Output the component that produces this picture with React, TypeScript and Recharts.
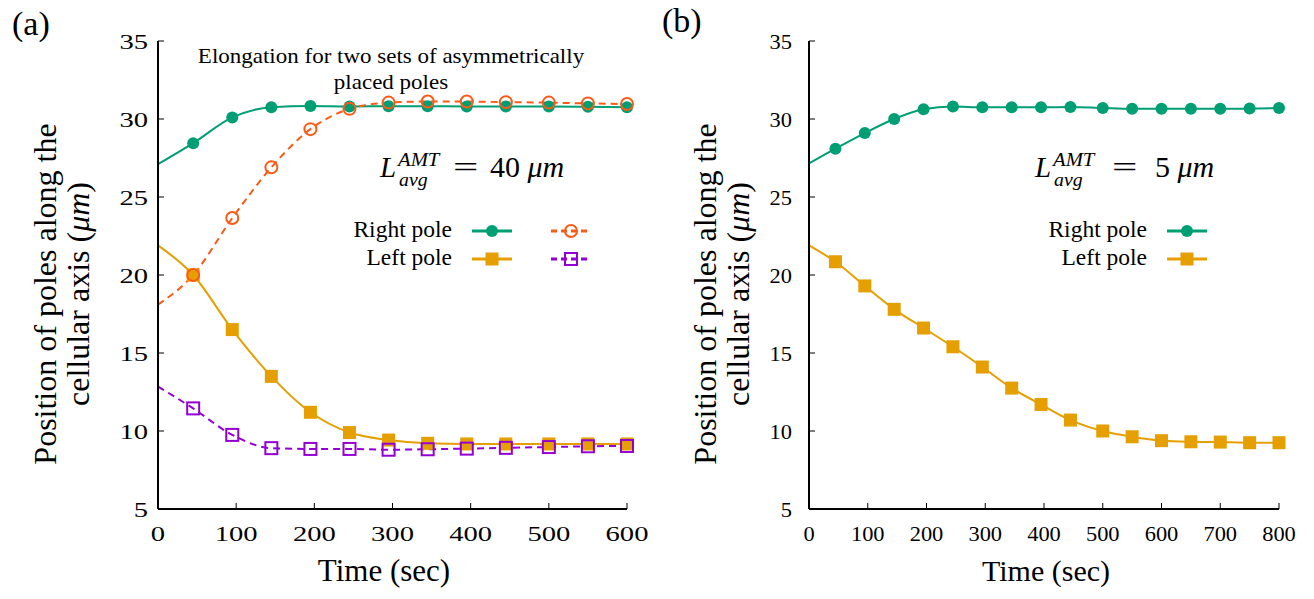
import React from "react";
import { LineChart, Line, XAxis, YAxis } from "recharts";

// time points (sec) where the simulation was sampled
const timesA = [0, 45, 95, 145, 195, 245, 295, 345, 395, 445, 500, 550, 600];
const rightPoleA1 = [27.1, 28.45, 30.1, 30.75, 30.83, 30.8, 30.82, 30.82, 30.8, 30.8, 30.8, 30.78, 30.75];
const leftPoleA1 = [21.9, 20.0, 16.5, 13.5, 11.2, 9.9, 9.42, 9.21, 9.17, 9.17, 9.17, 9.17, 9.17];
const rightPoleA2 = [18.1, 20.0, 23.65, 26.9, 29.35, 30.65, 31.05, 31.12, 31.12, 31.08, 31.05, 31.0, 30.96];
const leftPoleA2 = [12.85, 11.45, 9.75, 8.9, 8.85, 8.85, 8.8, 8.83, 8.87, 8.92, 8.97, 9.02, 9.04];

const timesB = [0, 45, 95, 145, 195, 245, 295, 345, 395, 445, 500, 550, 600, 650, 700, 750, 800];
const rightPoleB = [27.15, 28.1, 29.1, 30.0, 30.62, 30.8, 30.75, 30.75, 30.75, 30.77, 30.7, 30.65, 30.65, 30.65, 30.65, 30.67, 30.7];
const leftPoleB = [21.9, 20.85, 19.3, 17.8, 16.6, 15.4, 14.1, 12.75, 11.7, 10.7, 10.0, 9.63, 9.38, 9.31, 9.29, 9.25, 9.25];

const yTicks = [5, 10, 15, 20, 25, 30, 35];
const xTicksA = [0, 100, 200, 300, 400, 500, 600];
const xTicksB = [0, 100, 200, 300, 400, 500, 600, 700, 800];

const FONT = "'Liberation Serif', 'Times New Roman', 'DejaVu Serif', serif";
const GREEN = "#009e73";
const YELLOW = "#e69f00";
const ORANGE = "#fb5b17";
const PURPLE = "#9400d3";

type Series = { key: string; color: string; shape: "circle" | "square"; filled: boolean; dashed: boolean };

const seriesA: Series[] = [
  { key: "r1", color: GREEN, shape: "circle", filled: true, dashed: false },
  { key: "l1", color: YELLOW, shape: "square", filled: true, dashed: false },
  { key: "r2", color: ORANGE, shape: "circle", filled: false, dashed: true },
  { key: "l2", color: PURPLE, shape: "square", filled: false, dashed: true },
];
const seriesB: Series[] = [
  { key: "r1", color: GREEN, shape: "circle", filled: true, dashed: false },
  { key: "l1", color: YELLOW, shape: "square", filled: true, dashed: false },
];

const dataA = timesA.map((t, i) => ({ t, r1: rightPoleA1[i], l1: leftPoleA1[i], r2: rightPoleA2[i], l2: leftPoleA2[i] }));
const dataB = timesB.map((t, i) => ({ t, r1: rightPoleB[i], l1: leftPoleB[i] }));

function Marker({ cx, cy, s }: { cx: number; cy: number; s: Series }) {
  if (s.shape === "circle") {
    return s.filled
      ? <circle cx={cx} cy={cy} r={6} fill={s.color} />
      : <circle cx={cx} cy={cy} r={6} fill="none" stroke={s.color} strokeWidth={2} />;
  }
  return s.filled
    ? <rect x={cx - 6.5} y={cy - 6.5} width={13} height={13} fill={s.color} />
    : <rect x={cx - 6} y={cy - 6} width={12} height={12} fill="none" stroke={s.color} strokeWidth={2} />;
}

// no symbol at t = 0, gnuplot puts them every 50 s only
const dotFor = (s: Series) => (p: any) => {
  const { cx, cy, index } = p;
  if (index === 0 || cx == null || cy == null) return <g key={`d-${s.key}-${index}`} />;
  return <g key={`d-${s.key}-${index}`}><Marker cx={cx} cy={cy} s={s} /></g>;
};

// panel (a) was exported a bit wider, its tick numbers look stretched
const makeXTick = (sx: number) => (p: any) => (
  <text transform={`translate(${p.x},${p.y + 20}) scale(${sx},1)`} textAnchor="middle" fontFamily={FONT} fontSize={22} fill="#000">
    {p.payload.value}
  </text>
);
const makeYTick = (sx: number) => (p: any) => (
  <text transform={`translate(${p.x},${p.y + 8}) scale(${sx},1)`} textAnchor="end" fontFamily={FONT} fontSize={22} fill="#000">
    {p.payload.value}
  </text>
);

function Panel({ left, width, mLeft, mRight, data, xTicks, xMax, series, sx, yMargin }: {
  left: number; width: number; mLeft: number; mRight: number; data: any[]; xTicks: number[]; xMax: number;
  series: Series[]; sx: number; yMargin: number;
}) {
  const axisStroke = { stroke: "#000", strokeWidth: 2 };
  const tl = { stroke: "#000", strokeWidth: 1 };
  return (
    <div style={{ position: "absolute", left, top: 0 }}>
      <LineChart width={width} height={599} data={data} margin={{ top: 41, right: mRight, bottom: 60, left: mLeft }}>
        <XAxis xAxisId="b" dataKey="t" type="number" domain={[0, xMax]} ticks={xTicks} orientation="bottom" height={30}
          axisLine={axisStroke} tickLine={tl} tickSize={-6} tickMargin={18} tick={makeXTick(sx)} interval={0} />
        <XAxis xAxisId="t" dataKey="t" type="number" domain={[0, xMax]} ticks={xTicks} orientation="top" height={0}
          axisLine={axisStroke} tickLine={tl} tickSize={-6} tick={false} />
        <YAxis yAxisId="l" type="number" domain={[5, 35]} ticks={yTicks} orientation="left" width={60}
          axisLine={axisStroke} tickLine={tl} tickSize={-6} tickMargin={yMargin} tick={makeYTick(sx)} interval={0} />
        <YAxis yAxisId="r" type="number" domain={[5, 35]} ticks={yTicks} orientation="right" width={0}
          axisLine={axisStroke} tickLine={tl} tickSize={-6} tick={false} />
        {series.map((s) => (
          <Line key={s.key} xAxisId="b" yAxisId="l" type="monotone" dataKey={s.key} stroke={s.color} strokeWidth={2}
            strokeDasharray={s.dashed ? "7 5" : undefined} dot={dotFor(s)} activeDot={false} isAnimationActive={false} />
        ))}
      </LineChart>
    </div>
  );
}

function LegendRow({ x, y, label, items }: { x: number; y: number; label: string; items: Series[] }) {
  return (
    <g>
      <text x={x} y={y} textAnchor="end" fontFamily={FONT} fontSize={23.5}>{label}</text>
      {items.map((s, i) => {
        const x0 = x + 20 + i * 79;
        return (
          <g key={i}>
            <line x1={x0} x2={x0 + 40} y1={y - 6} y2={y - 6} stroke={s.color} strokeWidth={3}
              strokeDasharray={s.dashed ? "6 4" : undefined} />
            <Marker cx={x0 + 20} cy={y - 6} s={s} />
          </g>
        );
      })}
    </g>
  );
}

function LLabel({ x, y, eqX, numX, value }: { x: number; y: number; eqX: number; numX: number; value: string }) {
  return (
    <g fontFamily={FONT}>
      <text x={x} y={y} fontSize={29} fontStyle="italic">L</text>
      <text transform={`translate(${x + 18},${y - 11}) scale(1.15,1)`} fontSize={18} fontStyle="italic">AMT</text>
      <text transform={`translate(${x + 19},${y + 9}) scale(1.1,1)`} fontSize={18} fontStyle="italic">avg</text>
      <text transform={`translate(${eqX},${y}) scale(1.5,1)`} fontSize={30}>=</text>
      <text x={numX} y={y} fontSize={30}>{value} <tspan fontStyle="italic">μm</tspan></text>
    </g>
  );
}

function YLabel({ x, y }: { x: number; y: number }) {
  return (
    <g fontFamily={FONT} fontSize={32}>
      <text transform={`translate(${x},${y}) rotate(-90)`} textAnchor="middle">Position of poles along the</text>
      <text transform={`translate(${x + 33},${y}) rotate(-90)`} textAnchor="middle">
        cellular axis (<tspan fontStyle="italic">μm</tspan>)
      </text>
    </g>
  );
}

export default function App() {
  return (
    <div style={{ position: "absolute", left: 0, top: 0, width: 1314, height: 599, background: "#fff", fontFamily: FONT }}>
      <Panel left={0} width={660} mLeft={98} mRight={33} data={dataA} xTicks={xTicksA} xMax={600} series={seriesA} sx={1.3} yMargin={16} />
      <Panel left={650} width={664} mLeft={99} mRight={35} data={dataB} xTicks={xTicksB} xMax={800} series={seriesB} sx={1.02} yMargin={23} />
      <svg width={1314} height={599} style={{ position: "absolute", left: 0, top: 0, pointerEvents: "none" }}>
        <text x={12} y={35} fontFamily={FONT} fontSize={34}>(a)</text>
        <text x={662} y={32} fontFamily={FONT} fontSize={34}>(b)</text>
        <YLabel x={56} y={294} />
        <YLabel x={716} y={294} />
        <text x={384} y={581} textAnchor="middle" fontFamily={FONT} fontSize={31}>Time (sec)</text>
        <text x={1046} y={581} textAnchor="middle" fontFamily={FONT} fontSize={30}>Time (sec)</text>
        <text transform="translate(391,63) scale(1.07,1)" textAnchor="middle" fontFamily={FONT} fontSize={21.5}>Elongation for two sets of asymmetrically</text>
        <text transform="translate(391,89) scale(1.07,1)" textAnchor="middle" fontFamily={FONT} fontSize={21.5}>placed poles</text>
        <LLabel x={380} y={177} eqX={453} numX={490} value="40" />
        <LLabel x={1035} y={177} eqX={1112} numX={1155} value="5" />
        <LegendRow x={452} y={237} label="Right pole" items={[seriesA[0], seriesA[2]]} />
        <LegendRow x={452} y={265} label="Left pole" items={[seriesA[1], seriesA[3]]} />
        <LegendRow x={1147} y={237} label="Right pole" items={[seriesB[0]]} />
        <LegendRow x={1147} y={265} label="Left pole" items={[seriesB[1]]} />
      </svg>
    </div>
  );
}
